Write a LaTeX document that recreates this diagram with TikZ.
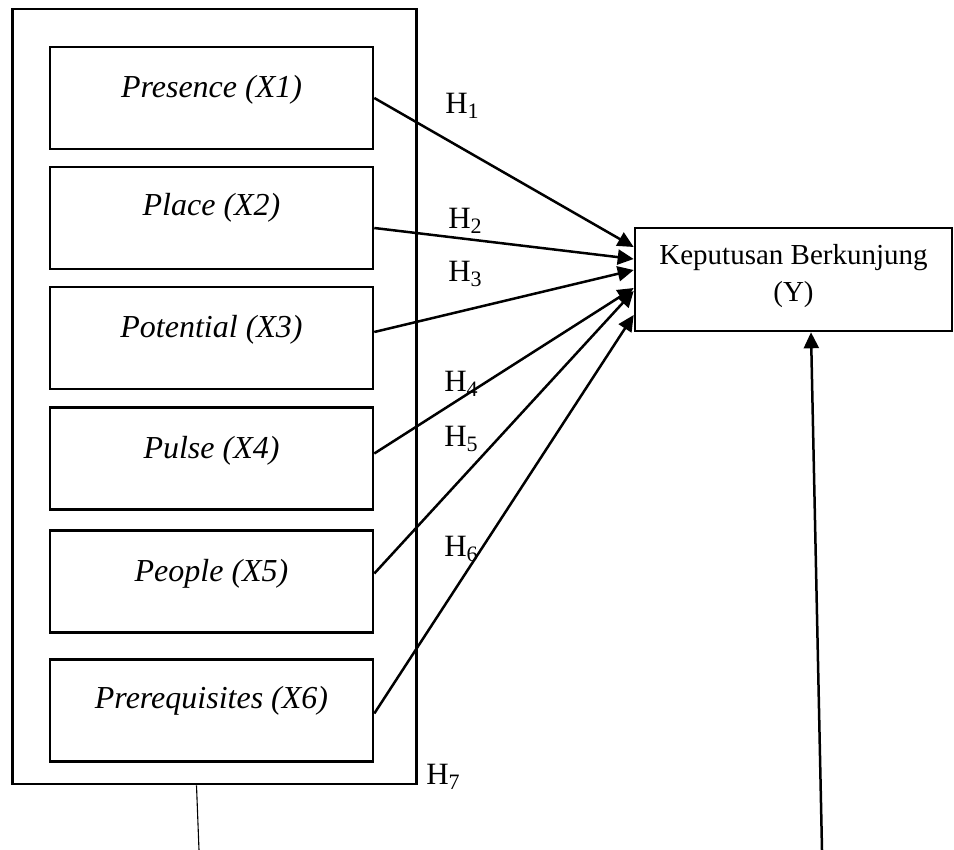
\documentclass[tikz,border=0pt]{standalone}
\usepackage{fontspec}
\setmainfont{Liberation Serif}
\usetikzlibrary{arrows.meta,calc}
\newcommand{\hlab}[1]{H\raisebox{-0.18em}{\fontsize{22}{24}\selectfont #1}}
\begin{document}
\begin{tikzpicture}[x=1pt,y=-1pt,
  inbox/.style={draw,line width=2.6pt,minimum width=323pt,minimum height=102pt,inner sep=0pt},
  vtext/.style={font=\fontsize{32}{36}\selectfont\itshape,inner sep=0pt},
  hyp/.style={font=\fontsize{31}{34}\selectfont,inner sep=0pt},
  arr/.style={line width=2.5pt,-{Triangle[length=16pt,width=15pt]}},
  ]
\useasboundingbox (0,0) rectangle (954,850);
% outer box
\node[draw,line width=2.6pt,minimum width=404pt,minimum height=775pt,inner sep=0pt] (outer) at (214.5,396.5) {};
% inner boxes
\node[inbox] (b1) at (211.5,98) {};
\node[inbox] (b2) at (211.5,218) {};
\node[inbox] (b3) at (211.5,338) {};
\node[inbox] (b4) at (211.5,458.5) {};
\node[inbox] (b5) at (211.5,581.5) {};
\node[inbox] (b6) at (211.5,710.5) {};
\node[vtext] (t1) at ($(b1.center)+(0,-8)$) {Presence (X1)};
\node[vtext] (t2) at ($(b2.center)+(0,-10)$) {Place (X2)};
\node[vtext] (t3) at ($(b3.center)+(0,-8)$) {Potential (X3)};
\node[vtext] (t4) at ($(b4.center)+(0,-8)$) {Pulse (X4)};
\node[vtext] (t5) at ($(b5.center)+(0,-8)$) {People (X5)};
\node[vtext] (t6) at ($(b6.center)+(0,-10)$) {Prerequisites (X6)};
% target box
\node[draw,line width=2.6pt,minimum width=317pt,minimum height=103pt,inner sep=0pt] (y) at (793.5,279.5) {};
\node[font=\fontsize{29}{37}\selectfont,align=center,inner sep=0pt] (yt) at ($(y.center)+(0,-3)$) {Keputusan Berkunjung\\(Y)};
% arrows
\draw[arr] ($(b1.east)+(0,0)$) -- ($(y.west)+(0,-32.5)$);
\draw[arr] ($(b2.east)+(0,10)$) -- ($(y.west)+(0,-20.5)$);
\draw[arr] ($(b3.east)+(0,-6)$) -- ($(y.west)+(0,-9.5)$);
\draw[arr] ($(b4.east)+(0,-5)$) -- ($(y.west)+(0,8.5)$);
\draw[arr] ($(b5.east)+(0,-8)$) -- ($(y.west)+(0,11.5)$);
\draw[arr] ($(b6.east)+(0,3)$) -- ($(y.west)+(0,35.5)$);
% labels
\node[hyp] (h1) at (462,106) {\hlab{1}};
\node[hyp] (h2) at (465,221) {\hlab{2}};
\node[hyp] (h3) at (465,274) {\hlab{3}};
\node[hyp] (h4) at (461,384) {\hlab{4}};
\node[hyp] (h5) at (461,439) {\hlab{5}};
\node[hyp] (h6) at (461,549) {\hlab{6}};
\node[hyp] (h7) at (443,777) {\hlab{7}};
% bottom lines
\coordinate (lb) at (199,850);
\coordinate (rb) at (822,850);
\draw[line width=1.1pt] ($(outer.south)+(-18,0)$) -- (lb);
\draw[arr] (rb) -- ($(y.south)+(17.5,0)$);
\end{tikzpicture}
\end{document}
